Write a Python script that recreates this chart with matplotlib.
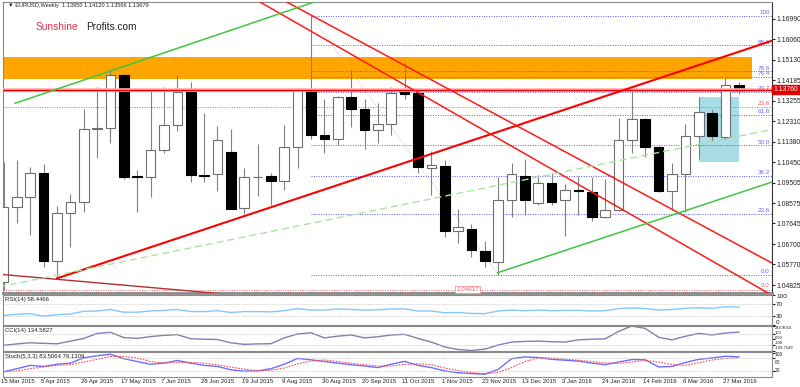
import numpy as np
import matplotlib.pyplot as plt
import matplotlib.patches as mpatches
import matplotlib.transforms as mtransforms

plt.rcParams['font.family'] = ['Liberation Sans', 'DejaVu Sans']

# weekly EURUSD candles, first bar = week of 15 Mar 2015
opens = [1.0498, 1.0838, 1.0886, 1.0993, 1.0592, 1.0811, 1.0864, 1.1195, 1.1202, 1.1443,
         1.0980, 1.0978, 1.1100, 1.1214, 1.1367, 1.0986, 1.0990, 1.1092, 1.0833, 1.0975,
         1.0980, 1.0960, 1.1112, 1.1374, 1.1169, 1.1149, 1.1341, 1.1287, 1.1191, 1.1217,
         1.1364, 1.1359, 1.1019, 1.1028, 1.0730, 1.0737, 1.0638, 1.0586, 1.0871, 1.0982,
         1.0856, 1.0950, 1.0871, 1.0917, 1.0910, 1.0793, 1.0827, 1.1146, 1.1240, 1.1115,
         1.0914, 1.0989, 1.1164, 1.1271, 1.1161, 1.13950]
highs = [1.1046, 1.1054, 1.1024, 1.1035, 1.0845, 1.0899, 1.1287, 1.1389, 1.1466, 1.1446,
         1.1009, 1.1374, 1.1389, 1.1443, 1.1412, 1.1269, 1.1210, 1.1196, 1.1016, 1.1127,
         1.0993, 1.1212, 1.1385, 1.1714, 1.1333, 1.1347, 1.1466, 1.1332, 1.1316, 1.1387,
         1.1499, 1.1385, 1.1095, 1.1054, 1.0829, 1.0762, 1.0685, 1.0978, 1.1042, 1.1057,
         1.0986, 1.0993, 1.0944, 1.0982, 1.0975, 1.0966, 1.1248, 1.1382, 1.1245, 1.1118,
         1.1042, 1.1217, 1.1344, 1.1286, 1.1438, 1.14120]
lows = [1.0462, 1.0765, 1.0711, 1.0563, 1.0513, 1.0658, 1.0818, 1.1065, 1.1131, 1.0969,
        1.0818, 1.0886, 1.1085, 1.1188, 1.0955, 1.0955, 1.0914, 1.0829, 1.0807, 1.0891,
        1.0848, 1.0915, 1.1017, 1.1149, 1.1085, 1.1123, 1.1205, 1.1103, 1.1134, 1.1169,
        1.1335, 1.0996, 1.0894, 1.0703, 1.0673, 1.0612, 1.0566, 1.0530, 1.0795, 1.0803,
        1.0849, 1.0849, 1.0708, 1.0803, 1.0777, 1.0788, 1.0822, 1.1088, 1.1067, 1.0910,
        1.0826, 1.0818, 1.1057, 1.1141, 1.1150, 1.13566]
closes = [1.0841, 1.0886, 1.0993, 1.0592, 1.0811, 1.0864, 1.1195, 1.1202, 1.1443, 1.0975,
          1.0975, 1.1100, 1.1214, 1.1367, 1.0986, 1.0981, 1.1146, 1.0830, 1.0975, 1.0978,
          1.0960, 1.1112, 1.1374, 1.1169, 1.1149, 1.1341, 1.1287, 1.1191, 1.1217, 1.1359,
          1.1358, 1.1021, 1.1031, 1.0730, 1.0749, 1.0643, 1.0592, 1.0871, 1.0989, 1.0871,
          1.0950, 1.0864, 1.0917, 1.0911, 1.0793, 1.0827, 1.1146, 1.1240, 1.1115, 1.0914,
          1.0989, 1.1164, 1.1275, 1.1164, 1.1397, 1.13679]

# indicators
rsi = [30, 34, 36, 28, 33, 35, 44, 45, 50, 41, 41, 45, 47, 50, 43, 43, 46, 40, 43, 43,
       42, 46, 53, 48, 48, 52, 50, 48, 49, 52, 52, 45, 45, 39, 40, 37, 36, 45, 48, 46,
       48, 46, 47, 47, 45, 46, 53, 55, 53, 48, 50, 54, 56, 54, 59, 58.4466]
cci = [-105, -80, -60, -70, -78, -30, 19, 110, 130, 35, 20, 53, 75, 88, 13, 5, 0, -60, -88, -80,
       -76, 30, 100, 123, 29, 60, 82, 29, 50, 82, 93, 20, -47, -135, -181, -199.7549, -175, -100, -47, -35,
       -29, -40, -47, -6, 5, 12, 146, 244.9024, 200, 40, -6, 58, 111, 82, 117, 134.5827]
stoch_k = [16, 30, 45, 40, 50, 55, 79, 88, 95, 75, 62, 50, 55, 67, 55, 45, 40, 25, 19, 20,
           30, 50, 76, 70, 62, 55, 48, 42, 35, 50, 63, 45, 35, 20, 12, 8, 5, 27, 75, 83,
           80, 72, 68, 64, 55, 48, 60, 71, 70, 38, 40, 58, 72, 78, 86, 83.5064]
stoch_d = [16, 20, 30, 38, 45, 48, 60, 72, 85, 85, 78, 62, 56, 58, 58, 55, 47, 37, 28, 21,
           23, 33, 52, 65, 69, 62, 55, 48, 42, 42, 49, 52, 48, 33, 22, 13, 8, 13, 36, 62,
           79, 78, 73, 68, 62, 56, 54, 60, 67, 60, 49, 45, 57, 69, 76, 79.1309]

date_labels = ['15 Mar 2015', '5 Apr 2015', '26 Apr 2015', '17 May 2015', '7 Jun 2015',
               '28 Jun 2015', '19 Jul 2015', '9 Aug 2015', '30 Aug 2015', '20 Sep 2015',
               '11 Oct 2015', '1 Nov 2015', '22 Nov 2015', '13 Dec 2015', '3 Jan 2016',
               '24 Jan 2016', '14 Feb 2016', '6 Mar 2016', '27 Mar 2016']
price_ticks = [1.16990, 1.16060, 1.15130, 1.14185, 1.13255, 1.12310, 1.11380, 1.10450,
               1.09505, 1.08575, 1.07645, 1.06700, 1.05770, 1.04825]
cci_ticks = [244.9024, 100, 0, -100, -199.7549]
cci_tick_labels = ['244.9024', '100', '0.00', '-100', '-199.7549']
stoch_ticks = [100, 80, 20]

# drawn objects (bar index, price)
resist_zone = (1.14246, 1.15239)
blue_box = (52, 55, 1.10464, 1.13437)
last_line = 1.13760
fib_lo, fib_hi = 1.0530, 1.1714
fib_levels = [0.0, 23.6, 38.2, 50.0, 61.8, 70.7, 76.4, 78.6, 88.6, 100]
red_fib_lo, red_fib_hi = 1.04617, 1.3993
red_fib_levels = [0.0, 23.6]
red_up = [(4, 1.0513), (57.5, 1.1600)]
red_down_a = [(20.9, 1.17859), (57.33, 1.05878)]
red_down_b = [(18.92, 1.17859), (57.18, 1.04460)]
brown_line = [(-0.26, 1.05315), (15.95, 1.04446)]
green_up = [(0.86, 1.13135), (23.3, 1.17781)]
green_low = [(36.96, 1.05388), (57.33, 1.09504)]
green_dash = [(-0.26, 1.04748), (57.33, 1.11923)]

n = len(closes)
x = np.arange(n)
X0, X1 = -0.04, 57.48

fig = plt.figure(figsize=(8, 3.87), dpi=100)
H = 387.0
def box(top, bot):
    return [3 / 800, 1 - bot / H, 769 / 800, (bot - top) / H]

ax = fig.add_axes(box(2, 293))
ax_rsi = fig.add_axes(box(294.5, 324.5))
ax_cci = fig.add_axes(box(326, 350.5))
ax_st = fig.add_axes(box(352, 376.5))

for a in (ax, ax_rsi, ax_cci, ax_st):
    a.set_xlim(X0, X1)
    a.set_xticks([])
    a.yaxis.tick_right()
    a.tick_params(axis='y', direction='out', length=2, labelsize=4.6, pad=1, colors='#222222')
    for s in a.spines.values():
        s.set_color('#8a8a8a')
        s.set_linewidth(0.8)
ax.spines['bottom'].set_linewidth(2)
ax.spines['right'].set_color('#333333')
ax.tick_params(axis='y', labelsize=4.9)

def inner_labels(a, ticks, labels):
    # MT4 keeps the extreme scale labels inside the sub window
    a.set_yticks(ticks)
    a.set_yticklabels(labels)
    tl = a.get_yticklabels()
    tl[0].set_va('top')
    tl[-1].set_va('bottom')

def stacked_labels(a, ticks, labels, fs):
    # crowded scale: ticks at their values, labels spread evenly down the window
    a.set_yticks(ticks)
    a.set_yticklabels([])
    k = len(labels)
    for j, lab in enumerate(labels):
        a.text(1.004, 1 - (j + 0.5) / k, lab, transform=a.transAxes, ha='left', va='center',
               fontsize=fs, color='#222222', clip_on=False)

# ---- main chart ----
ax.set_ylim(1.04460, 1.17767)
ax.set_yticks(price_ticks)
ax.set_yticklabels([f'{p:.5f}' for p in price_ticks])

ax.add_patch(mpatches.Rectangle((X0 - 1, resist_zone[0]), 56.0 - X0 + 1, resist_zone[1] - resist_zone[0],
                                facecolor='#ffa500', edgecolor='none', zorder=1))
ax.add_patch(mpatches.Rectangle((blue_box[0], blue_box[2]), blue_box[1] - blue_box[0], blue_box[3] - blue_box[2],
                                facecolor='#a8dce6', edgecolor='none', zorder=1))

# fibonacci (Aug high -> Dec low)
for lv in fib_levels:
    p = fib_lo + (fib_hi - fib_lo) * lv / 100
    ax.plot([23, X1], [p, p], color='#5a5aff', lw=0.7, ls=(0, (1, 1.5)), zorder=2)
    ax.text(X1 - 0.15, p + 0.0002, f'{lv:.1f}' if lv != 100 else '100', ha='right', va='bottom',
            fontsize=4.5, color='#6a6aff', zorder=6)
ax.plot([23, 37], [fib_hi, fib_lo], color='#c8c8c8', lw=0.7, ls=(0, (1, 1.5)), zorder=2)

# fibonacci (2014 high -> Mar 2015 low)
for lv in red_fib_levels:
    p = red_fib_lo + (red_fib_hi - red_fib_lo) * lv / 100
    ax.plot([X0, X1], [p, p], color='#ff5a5a', lw=0.7, ls=(0, (1, 1.5)), zorder=2)
    ax.text(X1 - 0.15, p + 0.0005, f'{lv:.1f}', ha='right', va='bottom', fontsize=4.5,
            color='#ff5a5a', zorder=6)
ax.text(34.7, red_fib_lo, '1.04617', ha='center', va='center', fontsize=4.5, color='#ff5a5a',
        bbox=dict(boxstyle='square,pad=0.15', fc='white', ec='#ff9090', lw=0.6), zorder=7)

# candles
up = np.array(closes) >= np.array(opens)
ax.vlines(x, lows, highs, color='#808080', lw=0.8, zorder=3)
body_lo = np.minimum(opens, closes)
body_h = np.maximum(np.abs(np.array(closes) - np.array(opens)), 0.00018)
ax.bar(x[up], body_h[up], bottom=body_lo[up], width=0.72, facecolor='white',
       edgecolor='#6e6e6e', lw=0.8, zorder=4)
ax.bar(x[~up], body_h[~up], bottom=body_lo[~up], width=0.72, facecolor='black',
       edgecolor='black', lw=0.8, zorder=4)

# last price / bid line
ax.axhline(last_line, color='#ffb0b0', lw=2.6, zorder=5)
ax.axhline(last_line, color='#ee0000', lw=1.0, zorder=5)
ax.axhline(closes[-1], color='#bdbdbd', lw=0.8, zorder=2)

def ray(pts, **kw):
    (xa, ya), (xb, yb) = pts
    k = (yb - ya) / (xb - xa)
    ax.plot([xa, X1 + 1], [ya, ya + k * (X1 + 1 - xa)], zorder=6, **kw)

def seg(pts, **kw):
    (xa, ya), (xb, yb) = pts
    k = (yb - ya) / (xb - xa)
    ax.plot([X0 - 1, X1 + 1], [ya + k * (X0 - 1 - xa), ya + k * (X1 + 1 - xa)], zorder=6, **kw)

ray(red_up, color='#ff0000', lw=1.5)
seg(red_down_a, color='#ff1a1a', lw=1.1)
seg(red_down_b, color='#ff1a1a', lw=1.1)
seg(brown_line, color='#b03030', lw=1.0)
ray(green_up, color='#3ec83e', lw=1.1)
ray(green_low, color='#3ec83e', lw=1.1)
seg(green_dash, color='#a8e6a0', lw=1.0, ls=(0, (5, 3)))

ax.text(0.006, 0.995, '\u25bc EURUSD,Weekly  1.13950 1.14120 1.13566 1.13679', transform=ax.transAxes,
        ha='left', va='top', fontsize=4.1, color='#222222', zorder=8)
ax.text(33 / 769, 1 - 25.3 / 291, 'Sunshine', transform=ax.transAxes, ha='left', va='center',
        fontsize=7.3, color='#e8304a', zorder=8)
ax.text(83 / 769, 1 - 25.3 / 291, 'Profits.com', transform=ax.transAxes, ha='left', va='center',
        fontsize=7.3, color='#222222', zorder=8)

tr = mtransforms.blended_transform_factory(ax.transAxes, ax.transData)
ax.text(1.002, last_line, '1.13760', transform=tr, ha='left', va='center', fontsize=4.9, color='white',
        bbox=dict(boxstyle='square,pad=0.2', fc='#e00000', ec='#e00000'), zorder=9, clip_on=False)

# ---- RSI ----
ax_rsi.set_ylim(0, 100)
ax_rsi.plot(x, rsi, color='#87c8fa', lw=1.0)
for lv in (70, 30):
    ax_rsi.axhline(lv, color='#c0c0c0', lw=0.6, ls=(0, (1, 1.5)))
inner_labels(ax_rsi, [100, 70, 30, 0], ['100', '70', '30', '0'])
ax_rsi.text(0.003, 0.93, 'RSI(14) 58.4466', transform=ax_rsi.transAxes, ha='left', va='top',
            fontsize=4.3, color='#222222')

# ---- CCI ----
ax_cci.set_ylim(cci_ticks[-1], cci_ticks[0])
ax_cci.plot(x, cci, color='#8080b4', lw=1.0)
for lv in (100, -100):
    ax_cci.axhline(lv, color='#c0c0c0', lw=0.6, ls=(0, (1, 1.5)))
stacked_labels(ax_cci, cci_ticks, cci_tick_labels, 3.0)
ax_cci.text(0.003, 0.93, 'CCI(14) 134.5827', transform=ax_cci.transAxes, ha='left', va='top',
            fontsize=4.3, color='#222222')

# ---- Stochastic ----
ax_st.set_ylim(-5, 105)
ax_st.plot(x, stoch_k, color='#6f6fff', lw=1.0)
ax_st.plot(x, stoch_d, color='#ff4a4a', lw=0.8, ls=(0, (1.5, 1.2)))
for lv in (80, 20):
    ax_st.axhline(lv, color='#c0c0c0', lw=0.6, ls=(0, (1, 1.5)))
ax_st.set_yticks(stoch_ticks)
ax_st.set_yticklabels([])
trs = mtransforms.blended_transform_factory(ax_st.transAxes, ax_st.transData)
ax_st.text(1.004, 1.0, '100', transform=ax_st.transAxes, ha='left', va='top', fontsize=3.5,
           color='#222222', clip_on=False)
ax_st.text(1.004, 0.58, '80', transform=ax_st.transAxes, ha='left', va='center', fontsize=3.5,
           color='#222222', clip_on=False)
ax_st.text(1.004, 20, '20', transform=trs, ha='left', va='center', fontsize=3.5,
           color='#222222', clip_on=False)
ax_st.text(0.003, 0.93, 'Stoch(5,3,3) 83.5064 79.1309', transform=ax_st.transAxes, ha='left', va='top',
           fontsize=4.3, color='#222222')

# date axis
trd = mtransforms.blended_transform_factory(ax_st.transData, ax_st.transAxes)
for k, lab in enumerate(date_labels):
    xi = 3 * k
    ax_st.text(xi - 0.2, -0.12, lab, transform=trd, ha='left', va='top', fontsize=4.3,
               color='#222222', clip_on=False)
    ax_st.plot([xi, xi], [0, -0.08], transform=trd, color='#555555', lw=0.6, clip_on=False)

fig.savefig('out.png', dpi=100)
